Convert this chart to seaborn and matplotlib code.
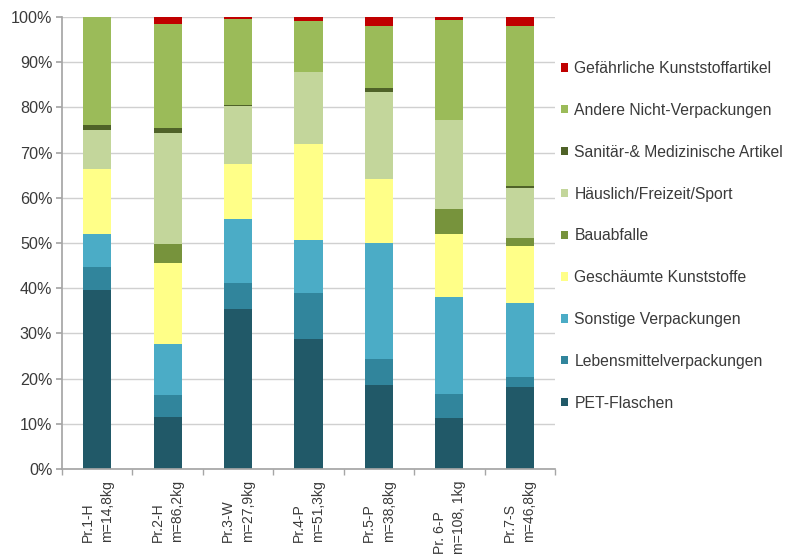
import numpy as np
import pandas as pd
import matplotlib
matplotlib.use("Agg")
import matplotlib.pyplot as plt
from matplotlib.patches import Patch
from matplotlib.ticker import PercentFormatter, MultipleLocator
import seaborn as sns

samples = ["Pr.1-H\nm=14,8kg", "Pr.2-H\nm=86,2kg", "Pr.3-W\nm=27,9kg", "Pr.4-P\nm=51,3kg",
           "Pr.5-P\nm=38,8kg", "Pr. 6-P\nm=108, 1kg", "Pr.7-S\nm=46,8kg"]

# bottom to top stacking order
categories = ["PET-Flaschen", "Lebensmittelverpackungen", "Sonstige Verpackungen",
              "Geschäumte Kunststoffe", "Bauabfalle", "Häuslich/Freizeit/Sport",
              "Sanitär-& Medizinische Artikel", "Andere Nicht-Verpackungen",
              "Gefährliche Kunststoffartikel"]

pet = [39.6, 11.4, 35.4, 28.8, 18.6, 11.2, 18.2]
lebensmittel = [5.1, 5.0, 5.8, 10.1, 5.7, 5.5, 2.1]
sonstige = [7.3, 11.3, 14.1, 11.8, 25.6, 21.4, 16.4]
geschaeumt = [14.4, 17.8, 12.2, 21.1, 14.3, 13.8, 12.6]
bau = [0.0, 4.3, 0.0, 0.0, 0.0, 5.6, 1.9]
haeuslich = [8.6, 24.5, 12.8, 16.1, 19.3, 19.7, 11.0]
sanitaer = [1.1, 1.1, 0.3, 0.0, 0.7, 0.0, 0.3]
andere = [23.9, 23.1, 18.9, 11.3, 13.8, 22.1, 35.4]
gefaehrlich = [0.0, 1.5, 0.5, 0.8, 2.0, 0.7, 2.1]

colors = ["#215968", "#31859c", "#4bacc6", "#ffff88", "#77933c",
          "#c3d69b", "#4f6228", "#9bbb59", "#c00000"]

values = [pet, lebensmittel, sonstige, geschaeumt, bau, haeuslich, sanitaer, andere, gefaehrlich]

sns.set_theme(style="white")
plt.rcParams["font.family"] = ["Liberation Sans", "DejaVu Sans"]

fig = plt.figure(figsize=(7.87, 5.57), dpi=100)
ax = fig.add_axes([62 / 787, 1 - 469 / 557, 493 / 787, 452 / 557])

# stacked bars: draw cumulative totals from top layer down
cum = np.cumsum(np.array(values), axis=0)
for i in range(len(categories) - 1, -1, -1):
    df = pd.DataFrame({"sample": samples, "total": cum[i]})
    sns.barplot(data=df, x="sample", y="total", color=colors[i], width=0.4,
                saturation=1, ax=ax, linewidth=0)

ax.set_ylim(0, 100)
ax.set_xlim(-0.5, len(samples) - 0.5)
ax.yaxis.set_major_locator(MultipleLocator(10))
ax.yaxis.set_major_formatter(PercentFormatter(decimals=0))
ax.set_xlabel("")
ax.set_ylabel("")
ax.grid(axis="y", color="#d0d0d0", linewidth=1)
ax.set_axisbelow(True)
for s in ["top", "right"]:
    ax.spines[s].set_visible(False)
for s in ["left", "bottom"]:
    ax.spines[s].set_color("#a6a6a6")
ax.tick_params(axis="y", labelsize=11.6, colors="#3a3a3a", left=True, length=4,
               color="#a6a6a6", pad=3)
ax.tick_params(axis="x", labelsize=10.1, colors="#3a3a3a", bottom=False, rotation=90, pad=2)
for lbl in ax.get_xticklabels():
    lbl.set_linespacing(1.5)
    lbl.set_multialignment("left")
    lbl.set_verticalalignment("top")
ax.set_xticks(np.arange(-0.5, len(samples)), minor=True)
ax.tick_params(axis="x", which="minor", bottom=True, length=4, color="#a6a6a6")

handles = [Patch(facecolor=c, edgecolor="none") for c in colors]
fig.legend(handles[::-1], categories[::-1], loc="upper left",
           bbox_to_anchor=(561 / 787, 1 - 61 / 557), frameon=False,
           fontsize=11.3, labelspacing=1.71, handlelength=0.45, handleheight=0.45,
           handletextpad=0.4, borderpad=0, borderaxespad=0, labelcolor="#3a3a3a")

fig.savefig("out.png", dpi=100)
